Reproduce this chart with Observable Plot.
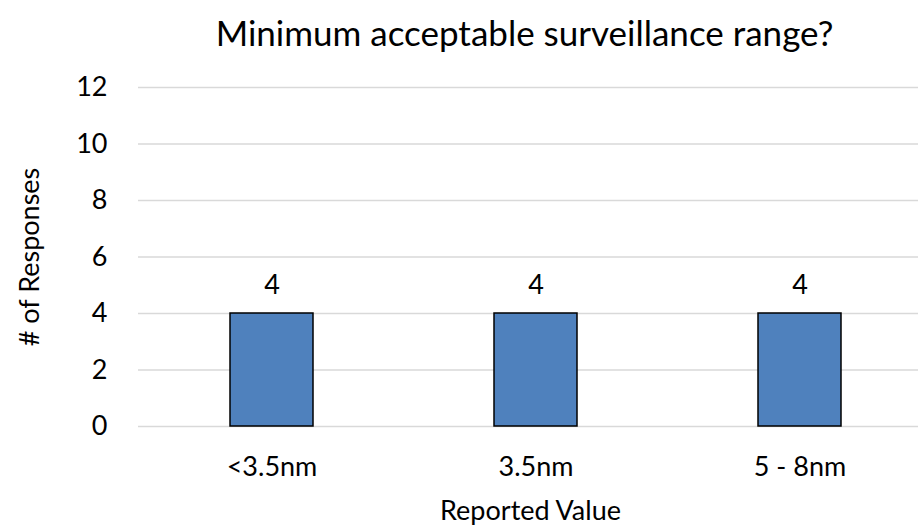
<!DOCTYPE html>
<html>
<head>
<meta charset="utf-8">
<script src="https://cdn.jsdelivr.net/npm/d3@7"></script>
<script src="https://cdn.jsdelivr.net/npm/@observablehq/plot@0.6"></script>
<style>
  html, body { margin: 0; padding: 0; background: #fff; }
  #chart { width: 918px; height: 529px; }
</style>
</head>
<body>
<div id="chart"></div>
<script>
// Survey answers: minimum acceptable surveillance range
const categories = ["<3.5nm", "3.5nm", "5 - 8nm"];
const counts = [4, 4, 4];
const yTicks = [0, 2, 4, 6, 8, 10, 12];
const chartTitle = "Minimum acceptable surveillance range?";
const xTitle = "Reported Value";
const yTitle = "# of Responses";

const data = categories.map((c, i) => ({category: c, count: counts[i]}));

const font = "Lato, 'Open Sans', sans-serif";

const chart = Plot.plot({
  width: 918,
  height: 529,
  marginTop: 87,
  marginBottom: 103,
  marginLeft: 138,
  marginRight: 0,
  style: {fontFamily: font, fontSize: "27px", color: "#000", background: "#fff", overflow: "hidden"},
  x: {domain: categories, range: [138, 932.6], paddingInner: 0.684, paddingOuter: 0.344, label: null},
  y: {domain: [0, 12], label: null},
  marks: [
    Plot.ruleY(yTicks, {stroke: "#d9d9d9", strokeWidth: 1.3}),
    Plot.barY(data, {x: "category", y: "count", fill: "#4F81BD", stroke: "#000", strokeWidth: 1.5}),
    Plot.text(data, {x: "category", y: "count", text: d => String(d.count), dy: -28, fontSize: 27, fill: "#000"}),
    Plot.axisY({ticks: yTicks, tickSize: 0, tickPadding: 31, fontSize: 27, label: null}),
    Plot.axisX({tickSize: 0, tickPadding: 30, fontSize: 27, label: null}),
    Plot.text([xTitle], {frameAnchor: "bottom", textAnchor: "middle", dx: 2, dy: 93, fontSize: 27, fill: "#000"}),
    Plot.text([yTitle], {frameAnchor: "left", textAnchor: "middle", lineAnchor: "middle", rotate: -90, dx: -108, fontSize: 27, fill: "#000"}),
    Plot.text([chartTitle], {frameAnchor: "top", textAnchor: "middle", dx: -4, dy: -66, fontSize: 35, fill: "#000"})
  ]
});

document.getElementById("chart").appendChild(chart);
</script>
</body>
</html>
